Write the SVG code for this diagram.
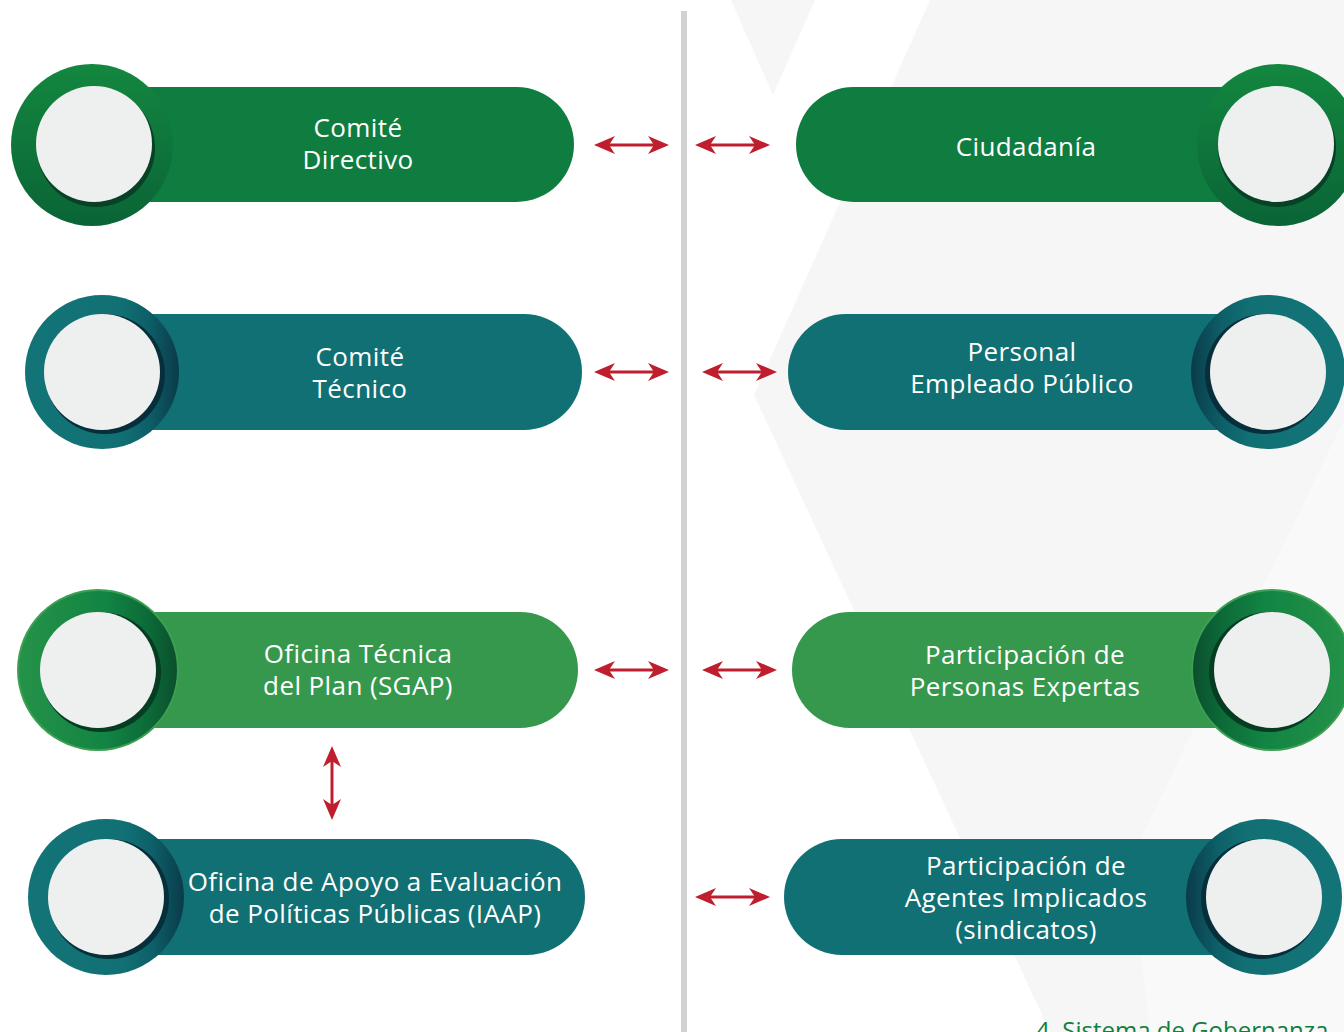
<svg xmlns="http://www.w3.org/2000/svg" width="1344" height="1032" viewBox="0 0 1344 1032">
<defs>
<style>
.lbl{font-family:"Open Sans","Noto Sans","Liberation Sans",sans-serif;font-size:26px;letter-spacing:0.4px;fill:#ffffff;text-anchor:middle}
.arrow{stroke:#be1e2d;stroke-width:3;fill:none;marker-start:url(#ah);marker-end:url(#ah)}
.light{fill:#eef0ef}
.pDG{fill:#0f7d40}
.pT{fill:#117073}
.pG{fill:#35984c}
.bg{fill:#f6f6f6}
</style>
<marker id="ah" viewBox="0 0 21 18" refX="10" refY="9" markerWidth="21" markerHeight="18" markerUnits="userSpaceOnUse" orient="auto-start-reverse">
<path d="M21,9 L0,0 L6,9 L0,18 Z" fill="#be1e2d"/>
</marker>
<linearGradient id="gDG" x1="0" y1="0" x2="0" y2="1">
<stop offset="0" stop-color="#13873f"/><stop offset="1" stop-color="#0a6436"/>
</linearGradient>
<linearGradient id="gTL" x1="0" y1="0" x2="1" y2="0">
<stop offset="0" stop-color="#137478"/><stop offset="0.62" stop-color="#117073"/><stop offset="0.8" stop-color="#0d5f68"/><stop offset="1" stop-color="#0a3b4a"/>
</linearGradient>
<linearGradient id="gTR" x1="1" y1="0" x2="0" y2="0">
<stop offset="0" stop-color="#137478"/><stop offset="0.62" stop-color="#117073"/><stop offset="0.8" stop-color="#0d5f68"/><stop offset="1" stop-color="#0a3b4a"/>
</linearGradient>
<linearGradient id="gGL" x1="0" y1="0" x2="1" y2="0">
<stop offset="0" stop-color="#259248"/><stop offset="0.55" stop-color="#128443"/><stop offset="0.82" stop-color="#0c6a38"/><stop offset="1" stop-color="#0b4f2e"/>
</linearGradient>
<linearGradient id="gGR" x1="1" y1="0" x2="0" y2="0">
<stop offset="0" stop-color="#259248"/><stop offset="0.55" stop-color="#128443"/><stop offset="0.82" stop-color="#0c6a38"/><stop offset="1" stop-color="#0b4f2e"/>
</linearGradient>
</defs>

<g id="background">
<rect x="0" y="0" width="1344" height="1032" fill="#ffffff"/>
<polygon class="bg" points="731,0 815,0 773,95"/>
<polygon class="bg" points="930,0 1344,0 1344,1032 1050,1032 754,395"/>
<polygon fill="#f9f9f9" points="1344,420 1344,1032 1150,1032 1130,860"/>
<rect x="681" y="11" width="6" height="1021" fill="#d1d2d4"/>
</g>

<g id="connectors">
<line class="arrow" x1="605" y1="145" x2="658" y2="145"/>
<line class="arrow" x1="706" y1="145" x2="759" y2="145"/>
<line class="arrow" x1="605" y1="372" x2="658" y2="372"/>
<line class="arrow" x1="713" y1="372" x2="766" y2="372"/>
<line class="arrow" x1="605" y1="670" x2="658" y2="670"/>
<line class="arrow" x1="713" y1="670" x2="766" y2="670"/>
<line class="arrow" x1="706" y1="897" x2="759" y2="897"/>
<line class="arrow" x1="332" y1="757" x2="332" y2="809"/>
</g>

<g id="comite-directivo">
<path class="pDG" d="M92,87 H516.5 A57.5,57.5 0 0 1 516.5,202 H92 Z"/>
<circle cx="92" cy="145" r="81" fill="url(#gDG)"/>
<circle cx="96" cy="148" r="59" fill="#074226"/>
<circle class="light" cx="94" cy="144" r="58"/>
<text class="lbl" x="358" y="137">Comité</text>
<text class="lbl" x="358" y="169">Directivo</text>
</g>

<g id="comite-tecnico">
<path class="pT" d="M102,314 H524 A58,58 0 0 1 524,430 H102 Z"/>
<circle cx="102" cy="372" r="77" fill="url(#gTL)"/>
<circle cx="105" cy="374" r="60" fill="#062f3b"/>
<circle class="light" cx="102" cy="372" r="58"/>
<text class="lbl" x="360" y="366">Comité</text>
<text class="lbl" x="360" y="398">Técnico</text>
</g>

<g id="oficina-tecnica">
<path class="pG" d="M98,612 H520 A58,58 0 0 1 520,728 H98 Z"/>
<circle cx="98" cy="670" r="81" fill="#3c9f52"/>
<circle cx="98" cy="670" r="79" fill="url(#gGL)"/>
<circle cx="101" cy="672" r="60" fill="#063c22"/>
<circle class="light" cx="98" cy="670" r="58"/>
<text class="lbl" x="358" y="663">Oficina Técnica</text>
<text class="lbl" x="358" y="695">del Plan (SGAP)</text>
</g>

<g id="oficina-apoyo">
<path class="pT" d="M106,839 H527 A58,58 0 0 1 527,955 H106 Z"/>
<circle cx="106" cy="897" r="78" fill="url(#gTL)"/>
<circle cx="109" cy="899" r="60" fill="#062f3b"/>
<circle class="light" cx="106" cy="897" r="58"/>
<text class="lbl" x="375" y="891">Oficina de Apoyo a Evaluación</text>
<text class="lbl" x="375" y="923">de Políticas Públicas (IAAP)</text>
</g>

<g id="ciudadania">
<path class="pDG" d="M1277,87 H853.5 A57.5,57.5 0 0 0 853.5,202 H1277 Z"/>
<circle cx="1278" cy="145" r="81" fill="url(#gDG)"/>
<circle cx="1277" cy="148" r="59" fill="#074226"/>
<circle class="light" cx="1276" cy="144" r="58"/>
<text class="lbl" x="1026" y="156">Ciudadanía</text>
</g>

<g id="personal-empleado">
<path class="pT" d="M1268,314 H846 A58,58 0 0 0 846,430 H1268 Z"/>
<circle cx="1268" cy="372" r="77" fill="url(#gTR)"/>
<circle cx="1265" cy="374" r="60" fill="#062f3b"/>
<circle class="light" cx="1268" cy="372" r="58"/>
<text class="lbl" x="1022" y="361">Personal</text>
<text class="lbl" x="1022" y="393">Empleado Público</text>
</g>

<g id="personas-expertas">
<path class="pG" d="M1272,612 H850 A58,58 0 0 0 850,728 H1272 Z"/>
<circle cx="1272" cy="670" r="81" fill="#3c9f52"/>
<circle cx="1272" cy="670" r="79" fill="url(#gGR)"/>
<circle cx="1269" cy="672" r="60" fill="#063c22"/>
<circle class="light" cx="1272" cy="670" r="58"/>
<text class="lbl" x="1025" y="664">Participación de</text>
<text class="lbl" x="1025" y="696">Personas Expertas</text>
</g>

<g id="agentes-implicados">
<path class="pT" d="M1264,839 H842 A58,58 0 0 0 842,955 H1264 Z"/>
<circle cx="1264" cy="897" r="78" fill="url(#gTR)"/>
<circle cx="1261" cy="899" r="60" fill="#062f3b"/>
<circle class="light" cx="1264" cy="897" r="58"/>
<text class="lbl" x="1026" y="875">Participación de</text>
<text class="lbl" x="1026" y="907">Agentes Implicados</text>
<text class="lbl" x="1026" y="939">(sindicatos)</text>
</g>

<text x="1036" y="1039" font-family="Open Sans, Noto Sans, sans-serif" font-size="24" fill="#0f7f3f">4. Sistema de Gobernanza</text>
</svg>
